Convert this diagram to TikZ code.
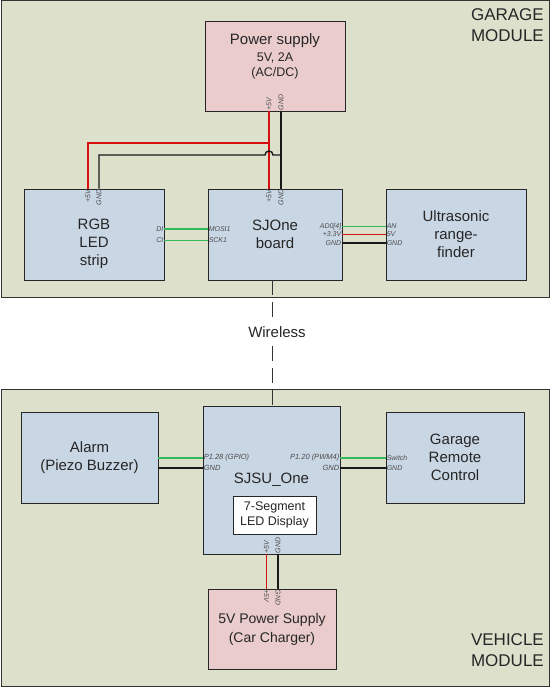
\documentclass[tikz,border=0pt]{standalone}
\usepackage{fontspec}
\setmainfont{Liberation Sans}
\usetikzlibrary{positioning}

\definecolor{modbg}{RGB}{221,225,204}
\definecolor{boxbg}{RGB}{201,214,228}
\definecolor{psubg}{RGB}{234,204,204}
\definecolor{sig}{RGB}{50,185,90}
\definecolor{pwr}{RGB}{214,16,16}

\tikzset{
  module/.style={draw=black!80, fill=modbg, line width=0.9pt, anchor=north west, inner sep=0pt},
  blktxt/.style={inner sep=0pt, align=center, text=black!85, font=\fontsize{15}{18}\selectfont},
  blk/.style={blktxt, draw=black!85, fill=boxbg, line width=0.9pt},
  pinlbl/.style={inner sep=1pt, text=black!70, font=\fontsize{7}{8}\selectfont\itshape},
  sigwire/.style={draw=sig, line width=1.1pt},
  pwrwire/.style={draw=pwr, line width=1.4pt},
  gndwire/.style={draw=black!90, line width=1.4pt},
  modlabel/.style={inner sep=0pt, align=right, text=black!85, font=\fontsize{17}{21}\selectfont}
}

\begin{document}
\begin{tikzpicture}[x=1pt, y=-1pt]
    \useasboundingbox[fill=white] (0,0) rectangle (550,687);

    % the two modules
    \node[module, minimum width=548.5pt, minimum height=296.5pt] (garage) at (0.5,0.5) {};
    \node[module, minimum width=548.5pt, minimum height=297.5pt] (vehicle) at (0.5,388.5) {};
    \node[modlabel, anchor=north east] (garagelbl) at (544,8) {GARAGE\\MODULE};
    \node[modlabel, anchor=south east] (vehiclelbl) at (544,667) {VEHICLE\\MODULE};

    % garage module
    \node[blk, fill=psubg, minimum width=140pt, minimum height=90pt] (psu) at (275,66) {};
    \node[blktxt] (psutxt) at (275,41) {Power supply};
    \node[blktxt, font=\fontsize{12.5}{15}\selectfont] (psusub) at (275,65.5) {5V, 2A\\(AC/DC)};
    \node[blk, minimum width=140pt, minimum height=91pt] (rgb) at (94,234.5) {};
    \node[blktxt] (rgbtxt) at (94,243.5) {RGB\\LED\\strip};
    \node[blk, minimum width=134pt, minimum height=91pt] (sjone) at (275,234.5) {SJOne\\board};
    \node[blk, minimum width=140pt, minimum height=91pt] (sonar) at (456,234.5) {Ultrasonic\\range-\\finder};

    % vehicle module
    \node[blk, minimum width=137pt, minimum height=91pt] (alarm) at (89.5,457.5) {Alarm\\(Piezo Buzzer)};
    \node[blk, minimum width=137pt, minimum height=148pt] (sjsu) at (271.5,480) {SJSU\_One};
    \node[blk, fill=white, minimum width=83pt, minimum height=38pt, font=\fontsize{12.5}{15}\selectfont] (seg) at (274.5,515) {7-Segment\\LED Display};
    \node[blk, minimum width=138pt, minimum height=91pt] (remote) at (455,457.5) {Garage\\Remote\\Control};
    \node[blk, fill=psubg, minimum width=128pt, minimum height=80pt, font=\fontsize{14}{19}\selectfont] (charger) at (272,629) {5V Power Supply\\(Car Charger)};

    % power wiring, garage
    \coordinate (jred) at (269,143);
    \coordinate (jblk) at (281,155);
    \draw[pwrwire] ([xshift=-6pt]psu.south) -- ([xshift=-6pt]sjone.north);
    \draw[gndwire] ([xshift=6pt]psu.south) -- ([xshift=6pt]sjone.north);
    \draw[pwrwire] (jred) -| ([xshift=-6pt]rgb.north);
    \draw[gndwire] (jblk) -- (273,155) arc[start angle=0, end angle=180, radius=4pt] -| ([xshift=5pt]rgb.north);

    % signal wiring, garage
    \draw[sigwire] ([yshift=5.5pt]rgb.east) -- ([yshift=5.5pt]sjone.west);
    \draw[sigwire] ([yshift=-6pt]rgb.east) -- ([yshift=-6pt]sjone.west);
    \draw[sigwire] ([yshift=8pt]sjone.east) -- ([yshift=8pt]sonar.west);
    \draw[pwrwire] (sjone.east) -- (sonar.west);
    \draw[gndwire] ([yshift=-8.5pt]sjone.east) -- ([yshift=-8.5pt]sonar.west);

    % wiring, vehicle
    \draw[sigwire] ([yshift=-0.5pt]alarm.east) coordinate (ag) -- (ag -| sjsu.west);
    \draw[gndwire] ([yshift=-10.5pt]alarm.east) coordinate (ak) -- (ak -| sjsu.west);
    \draw[sigwire] ([yshift=-0.5pt]remote.west) coordinate (rg) -- (rg -| sjsu.east);
    \draw[gndwire] ([yshift=-10.5pt]remote.west) coordinate (rk) -- (rk -| sjsu.east);
    \draw[pwrwire] ([xshift=-5pt]sjsu.south) coordinate (cr) -- (cr |- charger.north);
    \draw[gndwire] ([xshift=6.5pt]sjsu.south) coordinate (ck) -- (ck |- charger.north);

    % wireless link
    \draw[dash pattern=on 15pt off 7pt, line width=0.9pt, black!80] ([xshift=-3pt]sjone.south) coordinate (wl) -- (wl |- sjsu.north);
    \node[blktxt, fill=white, inner sep=2pt] (wireless) at (277,332) {Wireless};

    % pin labels
    \node[pinlbl, rotate=90, anchor=west] (psu5v) at ([xshift=-6pt]psu.south) {+5V};
    \node[pinlbl, rotate=90, anchor=west] (psugnd) at ([xshift=6pt]psu.south) {GND};
    \node[pinlbl, rotate=90, anchor=east] (rgb5v) at ([xshift=-6pt]rgb.north) {+5V};
    \node[pinlbl, rotate=90, anchor=east] (rgbgnd) at ([xshift=5pt]rgb.north) {GND};
    \node[pinlbl, rotate=90, anchor=east] (sj5v) at ([xshift=-6pt]sjone.north) {+5V};
    \node[pinlbl, rotate=90, anchor=east] (sjgnd) at ([xshift=6pt]sjone.north) {GND};
    \node[pinlbl, anchor=east] (rgbdi) at ([yshift=5.5pt]rgb.east) {DI};
    \node[pinlbl, anchor=east] (rgbci) at ([yshift=-6pt]rgb.east) {CI};
    \node[pinlbl, anchor=west] (sjmosi) at ([yshift=5.5pt]sjone.west) {MOSI1};
    \node[pinlbl, anchor=west] (sjsck) at ([yshift=-6pt]sjone.west) {SCK1};
    \node[pinlbl, anchor=east] (sjad) at ([yshift=8pt]sjone.east) {AD0[4]};
    \node[pinlbl, anchor=east] (sj33) at (sjone.east) {+3.3V};
    \node[pinlbl, anchor=east] (sjgnd2) at ([yshift=-8.5pt]sjone.east) {GND};
    \node[pinlbl, anchor=west] (sonan) at ([yshift=8pt]sonar.west) {AN};
    \node[pinlbl, anchor=west] (son5v) at (sonar.west) {5V};
    \node[pinlbl, anchor=west] (songnd) at ([yshift=-8.5pt]sonar.west) {GND};

    \node[pinlbl, anchor=west, font=\fontsize{7.5}{8}\selectfont\itshape] (sjgpio) at (ag -| sjsu.west) {P1.28 (GPIO)};
    \node[pinlbl, anchor=west, font=\fontsize{7.5}{8}\selectfont\itshape] (sjgndl) at (ak -| sjsu.west) {GND};
    \node[pinlbl, anchor=east, font=\fontsize{7.5}{8}\selectfont\itshape] (sjpwm) at (rg -| sjsu.east) {P1.20 (PWM4)};
    \node[pinlbl, anchor=east, font=\fontsize{7.5}{8}\selectfont\itshape] (sjgndr) at (rk -| sjsu.east) {GND};
    \node[pinlbl, anchor=west] (remsw) at (rg) {Switch};
    \node[pinlbl, anchor=west] (remgnd) at (rk) {GND};
    \node[pinlbl, rotate=90, anchor=west] (sjsu5v) at (cr) {+5V};
    \node[pinlbl, rotate=90, anchor=west] (sjsugnd) at (ck) {GND};
    \node[pinlbl, rotate=-90, anchor=west] (ch5v) at (cr |- charger.north) {+5V};
    \node[pinlbl, rotate=-90, anchor=west] (chgnd) at (ck |- charger.north) {GND};
\end{tikzpicture}
\end{document}
